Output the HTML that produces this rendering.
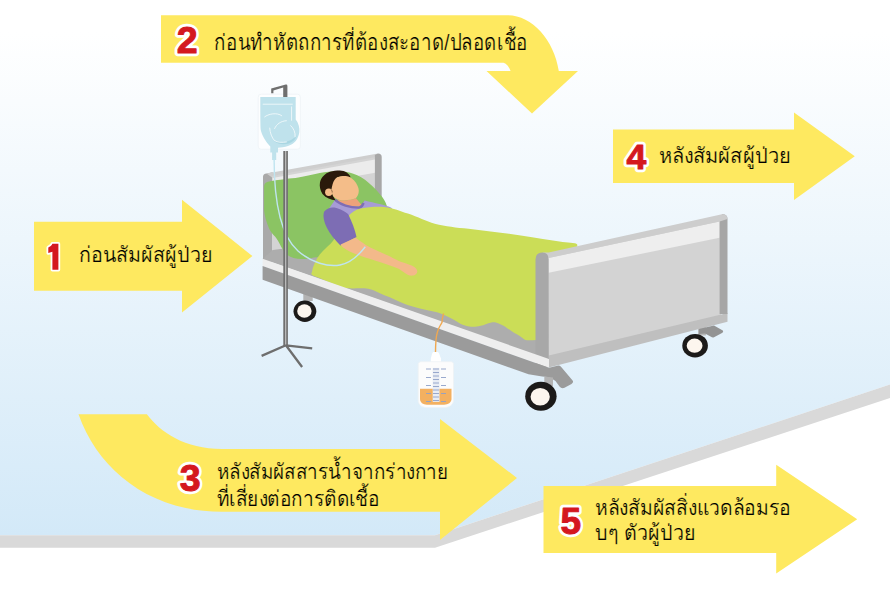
<!DOCTYPE html>
<html><head><meta charset="utf-8">
<style>
html,body{margin:0;padding:0;width:890px;height:593px;overflow:hidden;background:#fff;}
svg{display:block;}
.t{font-family:"Liberation Sans",sans-serif;fill:#000;stroke:#fee960;stroke-width:0.22;}
.nw text{font-family:"Liberation Sans",sans-serif;font-weight:bold;fill:#fff;stroke:#fff;stroke-width:6.4;stroke-linejoin:round;}
.nr text{font-family:"Liberation Sans",sans-serif;font-weight:bold;fill:#d4181f;stroke:#d4181f;stroke-width:1.0;stroke-linejoin:round;}
</style></head>
<body>
<svg width="890" height="593" viewBox="0 0 890 593">
<defs>
<linearGradient id="bg" gradientUnits="userSpaceOnUse" x1="0" y1="0" x2="0" y2="535">
<stop offset="0" stop-color="#ffffff"/>
<stop offset="0.06" stop-color="#ffffff"/>
<stop offset="1" stop-color="#d3e9f8"/>
</linearGradient>
</defs>
<!-- background -->
<rect x="0" y="0" width="890" height="593" fill="#ffffff"/>
<polygon points="0,0 890,0 890,384.6 435,535.2 0,535.2" fill="url(#bg)"/>
<polygon points="0,535.2 435,535.2 890,384.6 890,398 435,547.8 0,547.8" fill="#d9d9d9"/>

<!-- arrow 2 -->
<path d="M161,15.3 L507.8,15.3 C532,15.3 554,40 558.8,70.9 L578,70.9 L532,113.5 L486.5,70.9 L510.6,70.9 C508.5,66 506,62.7 502.3,62.7 L161,62.7 Z" fill="#fee960"/>
<!-- arrow 1 -->
<polygon points="34,221.7 182,221.7 182,199.8 252.4,256.1 182,312.6 182,290.8 34,290.8" fill="#fee960"/>
<!-- arrow 4 -->
<polygon points="613,129.4 794,129.4 794,112.6 854.8,156.2 794,199.9 794,183 613,183" fill="#fee960"/>
<!-- arrow 5 -->
<polygon points="543.5,486 776.2,486 776.2,464.8 857.2,519.2 776.2,573.6 776.2,552.9 543.5,552.9" fill="#fee960"/>
<!-- arrow 3 -->
<path d="M78.5,414.2 L146.9,414.2 C160,432 185,449 222,449 L440,449 L440,419 L517,478 L440,540 L440,511.8 L222,511.8 C150,511.8 98,470 78.5,414.2 Z" fill="#fee960"/>

<!-- numbers -->
<g class="nw">
<text x="187.2" y="53" font-size="37.5" text-anchor="middle">2</text>
<text x="636.3" y="169.4" font-size="35.5" text-anchor="middle">4</text>
<text x="190.3" y="490.6" font-size="37.5" text-anchor="middle">3</text>
<text x="570.8" y="533.6" font-size="37" text-anchor="middle">5</text>
</g>
<path d="M52.4,243.8 L58.4,243.8 L58.4,269.7 L52.4,269.7 L52.4,251.8 L48.3,253 L48.3,247.6 C50,246.6 51.8,245.4 52.4,243.8 Z" fill="#d4181f" stroke="#fff" stroke-width="3.6" stroke-linejoin="round" paint-order="stroke"/>
<g class="nr">
<text x="187.2" y="53" font-size="37.5" text-anchor="middle">2</text>
<text x="636.3" y="169.4" font-size="35.5" text-anchor="middle">4</text>
<text x="190.3" y="490.6" font-size="37.5" text-anchor="middle">3</text>
<text x="570.8" y="533.6" font-size="37" text-anchor="middle">5</text>
</g>

<!-- texts -->
<text class="t" x="214.3" y="50" font-size="22.5" textLength="313.3" lengthAdjust="spacingAndGlyphs">ก่อนทำหัตถการที่ต้องสะอาด/ปลอดเชื้อ</text>
<text class="t" x="79" y="262.4" font-size="21.5" textLength="133.5" lengthAdjust="spacingAndGlyphs">ก่อนสัมผัสผู้ป่วย</text>
<text class="t" x="658.6" y="163.1" font-size="21.5" textLength="132.5" lengthAdjust="spacingAndGlyphs">หลังสัมผัสผู้ป่วย</text>
<text class="t" x="217" y="478.6" font-size="21.5" textLength="231" lengthAdjust="spacingAndGlyphs">หลังสัมผัสสารน้ำจากร่างกาย</text>
<text class="t" x="217" y="506.3" font-size="21.5" textLength="163" lengthAdjust="spacingAndGlyphs">ที่เสี่ยงต่อการติดเชื้อ</text>
<text class="t" x="595" y="515" font-size="21.5" textLength="196" lengthAdjust="spacingAndGlyphs">หลังสัมผัสสิ่งแวดล้อมรอ</text>
<text class="t" x="595" y="539.8" font-size="21.5" textLength="100.5" lengthAdjust="spacingAndGlyphs">บๆ ตัวผู้ป่วย</text>

<!-- BED -->
<g id="bed">
<!-- IV bag backing -->
<rect x="258.2" y="94.2" width="42.2" height="55" rx="3" fill="#fdfeff" stroke="#e9f0f3" stroke-width="0.6"/>
<!-- hook -->
<path d="M271.2,93.2 L271.2,88.6 L285.8,84.6 Q287.4,84.3 287.4,86 L287.4,97 L283.2,97 L283.2,87.6 L273.4,90.4 L273.4,93.2 Z" fill="#6f6f6f"/>
<!-- IV bag -->
<path d="M260.3,97.1 L295.7,97.1 L295.7,119.5 C298.5,123 299.8,127.5 299.3,132 C298.5,139 294.5,144 288,146 C284.5,147 281,147.5 278,147.8 L278,152.5 L270.3,152.5 L270.3,146.6 C265.5,141 261.5,135 260.6,128.9 C260.3,122 260.3,110 260.3,97.1 Z" fill="#bfe2ec"/>
<path d="M274,141 C278,144.5 284,145 289,143.5 C293,142 296,139 297,135 C294,139 288,142.5 281,142 C278,141.8 276,141.5 274,141 Z" fill="#a9d6e2"/>
<g stroke="#ffffff" stroke-width="0.8" fill="none" opacity="0.9">
<path d="M262.7,104.2 L292.7,104.2"/>
<path d="M291.6,106.5 L291.6,120.7"/>
<path d="M264.4,117.1 C268,114 277,112 282.1,116"/>
<path d="M269.7,127.7 C270,133 272,138 274.5,140.5 C277.5,142.5 282,142.8 286.8,141.9"/>
<path d="M274.5,128.9 C276.5,124 281,121 286.8,120.7"/>
<path d="M290.4,125.4 C293.5,128 295.5,132.5 295.1,137.2"/>
</g>
<rect x="272.1" y="152" width="4.1" height="8" fill="#bfe2ec"/>

<!-- headboard -->
<path d="M263,177 Q263,173.5 266.5,173.5 L272.7,172.2 L272.7,262 L263,262 Z" fill="#a9a9a9"/>
<polygon points="266.5,173.5 377.9,153.4 377.9,159.5 272.7,178" fill="#cecece"/>
<polygon points="272,176 376,157 376,250 272,262" fill="#d4d4d4"/>
<polygon points="272.7,178 375,159.5 375,172.8 272.7,191" fill="#ececec"/>

<path d="M374.9,155 L378,153.4 Q381.7,153.4 381.7,157 L381.7,240 L374.9,240 Z" fill="#a7a7a7"/>

<!-- mattress -->
<polygon points="272.7,250 380,236 575,300 549,360 262.6,259" fill="#adadad"/>

<!-- pillow -->
<path d="M264.1,186 C264.5,183 266.5,182 269,181.5 C278,180 287,178.8 295.5,178.1 C305,176.5 312,174.5 319.8,173 C330,171 342,170.5 349.4,172.5 C360,175 370,182 380.8,195.3 C384,199 386,203 386.4,204.8 L392,220 L330,255 C324,256.5 319,257.5 313.7,257.5 C309,258.5 305,259.2 301.6,259.1 C296,259 291,257.5 287.4,255 C284.5,252.5 283,249.5 281.3,246.9 C279.5,243.5 277.5,239.5 275.2,236.8 C272.5,234 270.5,231.5 269.2,228.7 C266.5,222.5 264.5,216 264.1,210.5 Z" fill="#8bc463"/>

<!-- shirt torso -->
<path d="M335.3,199.5 L340.4,204.5 L360.6,207 L364.6,200.5 C375,203 385,205 391,207.5 L396,213 L352,228 L326.2,212.6 Z" fill="#a79bd6"/>
<!-- neck -->
<path d="M336.5,199.5 C342,201 350,200.5 356,198.3 L362,205.5 C355,207.5 345,206 339,203 Z" fill="#eda27a"/>
<path d="M335.2,199.8 C340,204.5 350,207.8 359.2,207.6 C361.2,207.3 362.6,205.5 363.6,203" stroke="#7e6db5" stroke-width="2.4" fill="none"/>
<!-- hair -->
<path d="M339.8,170.4 C345,170.5 349.5,173.5 350.8,177.6 C346,176.5 341,176.2 337.3,177.2 C334.5,180 333.2,184 333,186 L331.4,190 L333,196 L335.6,200.3 C331,200 326,198 322.5,194 C320,190 319.3,186 320,182.2 C321.5,177 325,173.5 330,171.8 C333,170.8 336.5,170.4 339.8,170.4 Z" fill="#2b1a0b"/>
<!-- face -->
<path d="M337.3,177.2 C340,176 343,175.8 345.7,175.9 C349.5,176.5 352,178 354.1,180.5 C357,184 358.8,187.5 358.8,190.6 C358.8,194 357.5,196.5 355.8,198.2 C352,200 345,200.5 339.8,199.9 C336.5,199 334,197.5 333,195.7 C332,193.5 331.4,191.5 331.4,189.8 C332,186 333,182 334.5,180 C335.5,178.5 336.3,177.7 337.3,177.2 Z" fill="#f4bd89"/>
<circle cx="328.8" cy="192.3" r="3.7" fill="#f4bd89"/>
<path d="M331,189.5 C332,190.5 332.3,191.5 332.2,192.5" stroke="#2b1a0b" stroke-width="0.5" fill="none"/>

<!-- blanket -->
<path d="M347.2,217 C352,212 356,209.5 360.7,208.5 C368,207 376,206.5 384.3,206.9 C394,208 400,211 407.9,213.6 C418,217 426,221.5 434.8,223.7 C446,226.5 456,227.5 468.5,228.8 C482,230.5 495,232 509,233.8 C525,236 540,238.5 552.8,240.6 C562,242 570,243 574.7,243.3 C578,243.5 578,246 576,248 L565,345 L536,340 C532,340.2 528,340.5 525.2,339.9 C521,337 517.5,334.5 514.4,333.1 C509,329.5 505,326 500.9,324.4 C497,322.5 494,322 491.5,322.4 C487,323 484,325.5 480.7,325.7 C477,326.7 474,327 471.2,326.7 C466,326 463.5,325 460.4,323.7 C455,320.5 450,317.5 444.3,315 C440,313.2 437,312.2 433.5,311.6 C429,310.5 424,309.8 420,308.6 C415,307.3 410,306 406.2,304.6 C399,301.5 391,297.5 385,295.5 C379,293 373,289.5 368.3,288.7 C361,287.8 352,289 345.5,288 C339,286.5 335,284.5 330.3,282.6 C326,281 323,279.5 319.7,278 C316.5,277 313.5,276 312.1,275 C311,274 311.3,273 311.8,272.6 C313,266 316,259 320.2,254 C323.5,250 327,247 330.3,243.9 C337,237 342,226 347.2,217 Z" fill="#cbdd57"/>

<!-- sleeve -->
<path d="M324.2,211.6 C327,208 331,207 334.3,207.5 C340,209 346,211.5 348.4,214.6 C352,222 355,230 356.5,237 L340.4,245.5 C335,240 330,234 327,228 C324,222 322.5,216 324.2,211.6 Z" fill="#7d6db4"/>
<!-- arm -->
<path d="M340.6,244.5 L355.5,237.8 C359,240 362,242.5 365,244.5 C368.5,246.5 372,248.5 375.7,250 C380.5,252.5 385.5,254.5 390.6,256.7 C394,258.5 398,260.5 401.4,262.1 C404,263 407,263.8 409.5,264.8 C412.5,265.8 414.8,267 416.2,268.8 C417.5,270.5 417.5,272 416.9,272.9 C416,274.5 414,275.6 412.2,275.6 C410,275.8 408.2,275 406.8,274.2 C404,272.5 401.5,270.5 398.7,268.8 C391,265.5 383,263 375.7,260.7 C368.5,258.5 361.5,256.5 355.5,254 C351.5,252.5 347.5,250.8 344.7,248.6 C343,247.5 341.5,246 340.6,244.5 Z" fill="#f3b98a"/>

<!-- IV tube -->
<path d="M274.1,158 C274,200 280,235 298,251 C312,263 328,267 340,265 C351,263 359,255 365.3,246.8" stroke="#bfe4f0" stroke-width="1.4" fill="none"/>

<!-- footboard -->
<rect x="698" y="323.5" width="7.9" height="12" fill="#b8b8b8"/>
<polygon points="548,256 721,219 721,316 548,358" fill="#d3d3d3"/>
<polygon points="548.6,258 719.6,221.6 719.6,237.8 548.6,272.8" fill="#eeeeee"/>
<polygon points="548.8,355.5 727.5,313 727.5,321.7 548.8,367.5" fill="#bfbfbf"/>
<path d="M719.6,221.6 L719.6,314 L727.5,314 L727.5,219 Q727.5,214 722,214.2 Z" fill="#a6a6a6"/>
<path d="M542.5,252.5 L548.6,252.5 L722,214.2 Q727.5,214 727.5,219 L719.6,221.6 L548.6,258 Z" fill="#cdcdcd"/>
<path d="M535.5,367.2 L535.5,259.5 Q535.5,252.5 542.5,252.5 Q548.6,252.5 548.6,259.5 L548.8,367.2 Z" fill="#a8a8a8"/>

<!-- side rail -->
<rect x="303.3" y="290" width="9.4" height="11" fill="#b3b3b3"/>

<polygon points="262.6,258.7 549,359 549,367.8 262.6,266" fill="#eeeeee"/>
<path d="M262.6,266 L549,367.8 L558.4,365.5 Q560,365.5 561,366.8 L572.6,380.5 Q574,382.5 571.5,384 L564.5,387.8 Q561.5,389 559.5,386.5 L555.5,381 Q552,377.8 547,377 L542.2,376.6 L528.5,374.2 L262.6,279.8 Z" fill="#9b9b9b"/>

<!-- back-left wheel -->
<ellipse cx="304.9" cy="311.2" rx="11.4" ry="10.7" fill="#1c1a19"/>
<ellipse cx="304.4" cy="311" rx="7.2" ry="6.75" fill="#fdf6ee"/>

<!-- back-right caster + wheel -->
<path d="M699,329 L714,325.5 L722.8,330.5 C723.5,331.5 723,332.5 722,333 L714,337.2 C713,337.6 712,337.4 711,336.8 L705,333.5 L699,334 Z" fill="#939393"/>
<ellipse cx="695.1" cy="345.7" rx="12.8" ry="11.8" fill="#1c1a19"/>
<ellipse cx="694.6" cy="345.7" rx="7.9" ry="7.1" fill="#fdf6ee"/>

<!-- front-left caster + wheel -->
<path d="M544.3,376.5 L553,377.5 L553,386 L544.3,386 Z" fill="#b3b3b3"/>
<ellipse cx="540.9" cy="396.3" rx="15.7" ry="14.5" fill="#1c1a19"/>
<ellipse cx="540.2" cy="396.7" rx="9.65" ry="8.8" fill="#fdf6ee"/>

<!-- IV pole -->
<rect x="283.3" y="151" width="4.6" height="195" fill="#6f6f6f"/>
<rect x="285" y="151" width="1.3" height="195" fill="#b9b9b9"/>
<path d="M285.9,345.3 L261.6,355.9 M285.9,345.3 L312.2,348.3 M285.9,345.3 L302.1,367" stroke="#6e6e6e" stroke-width="2.3" stroke-linecap="butt"/>

<!-- urine tube + bag -->
<path d="M443.6,313.5 C443,316 442,318.5 442.2,321 C442.4,322.5 441.5,323.5 440.5,325 C438,329 436.5,334 436,340 C435.7,344 435.5,348 435.5,352" stroke="#f0a850" stroke-width="1.4" fill="none"/>
<path d="M433.5,352 L437.5,352 C438.5,352 439.5,354 440,356 L441,358.5 L441,362 L430.8,362 L430.8,358.5 L431.5,356 C432,354 432.5,352 433.5,352 Z" fill="#ffffff"/>
<path d="M421,361.7 L451,361.7 C452.5,361.7 453.5,362.7 453.5,364 L453.5,400 C453.5,405 449,407.6 444,407.6 L427,407.6 C422,407.6 418.2,405 418.2,400 L418.2,364 C418.2,362.7 419.5,361.7 421,361.7 Z" fill="#fcfcfc" stroke="#eef2f5" stroke-width="0.8"/>
<path d="M420,388.8 L451.5,388.8 L451.5,399 C451.5,402.5 448,404.7 444,404.7 L427,404.7 C423,404.7 420,402.5 420,399 Z" fill="#f3b060"/>
<rect x="432.7" y="367.9" width="6.8" height="34" fill="#e8ecf4"/>
<g stroke="#8fa0c8" stroke-width="0.9">
<path d="M433,369 H439 M433,372.5 H439 M433,376 H439 M433,379.5 H439 M433,383 H439 M433,386.5 H439 M433,390 H439 M433,393.5 H439 M433,397 H439 M433,400.5 H439"/>
<path d="M426,369 H431 M441,369 H446 M426,377.5 H431 M441,377.5 H446 M426,385.5 H431 M441,385.5 H446 M426,393.5 H431 M441,393.5 H446 M426,401.5 H431 M441,401.5 H446"/>
</g>
</g>
</svg>
</body></html>
